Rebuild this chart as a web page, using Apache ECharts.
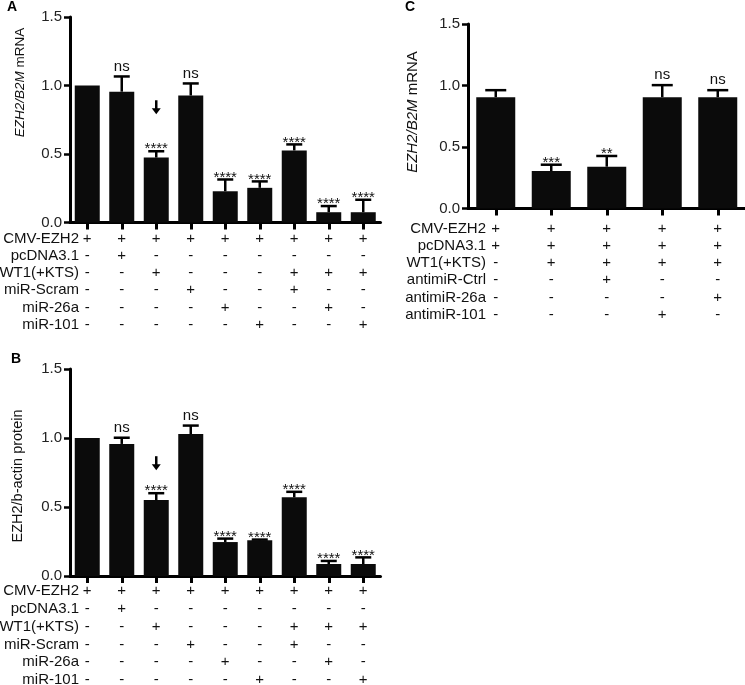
<!DOCTYPE html>
<html><head><meta charset="utf-8">
<script src="https://cdn.jsdelivr.net/npm/echarts@6/dist/echarts.min.js"></script>
<style>html,body{margin:0;padding:0;background:#fff}#c{width:745px;height:685px}</style>
</head><body><div id="c"></div>
<script>
const FONT = '"Liberation Sans", Arial, Helvetica, sans-serif';

// ---- data ----
const rowNamesAB = ['CMV-EZH2', 'pcDNA3.1', 'WT1(+KTS)', 'miR-Scram', 'miR-26a', 'miR-101'];
const signsAB = [
  ['+', '+', '+', '+', '+', '+', '+', '+', '+'],
  ['-', '+', '-', '-', '-', '-', '-', '-', '-'],
  ['-', '-', '+', '-', '-', '-', '+', '+', '+'],
  ['-', '-', '-', '+', '-', '-', '+', '-', '-'],
  ['-', '-', '-', '-', '+', '-', '-', '+', '-'],
  ['-', '-', '-', '-', '-', '+', '-', '-', '+']
];
const meanA = [1.00, 0.955, 0.474, 0.927, 0.228, 0.253, 0.526, 0.075, 0.075];
const errA  = [0.00, 0.111, 0.046, 0.088, 0.086, 0.047, 0.044, 0.045, 0.091];
const sigA  = ['', 'ns', '****', 'ns', '****', '****', '****', '****', '****'];
const arrowA = 2;

const meanB = [1.00, 0.957, 0.550, 1.029, 0.246, 0.259, 0.570, 0.087, 0.087];
const errB  = [0.00, 0.045, 0.050, 0.061, 0.025, 0.005, 0.040, 0.022, 0.048];
const sigB  = ['', 'ns', '****', 'ns', '****', '****', '****', '****', '****'];
const arrowB = 2;

const rowNamesC = ['CMV-EZH2', 'pcDNA3.1', 'WT1(+KTS)', 'antimiR-Ctrl', 'antimiR-26a', 'antimiR-101'];
const signsC = [
  ['+', '+', '+', '+', '+'],
  ['+', '+', '+', '+', '+'],
  ['-', '+', '+', '+', '+'],
  ['-', '-', '+', '-', '-'],
  ['-', '-', '-', '-', '+'],
  ['-', '-', '-', '+', '-']
];
const meanC = [0.905, 0.304, 0.340, 0.905, 0.905];
const errC  = [0.057, 0.052, 0.087, 0.098, 0.057];
const sigC  = ['', '***', '**', 'ns', 'ns'];

const yTicks = [0, 0.5, 1.0, 1.5];

// ---- layout ----
const FS = 15;
const panels = [
  { key: 'A', rows: rowNamesAB, signs: signsAB, mean: meanA, err: errA, sig: sigA, arrow: arrowA,
    left: 70, top: 17, width: 310.5, height: 205.5, barWidth: 25, cap: 16, lh: 17.3, margin: 7.3,
    nameRight: 79, arrowGap: 44,
    title: { text: '{i|EZH2/B2M} mRNA', x: 20, y: 82.5, size: 13.5 },
    letter: { x: 12, y: 7 } },
  { key: 'B', rows: rowNamesAB, signs: signsAB, mean: meanB, err: errB, sig: sigB, arrow: arrowB,
    left: 70, top: 369, width: 310.5, height: 207, barWidth: 25, cap: 16, lh: 17.9, margin: 5.8,
    nameRight: 79, arrowGap: 30,
    title: { text: 'EZH2/b-actin protein', x: 18, y: 476, size: 14.5 },
    letter: { x: 16, y: 359 } },
  { key: 'C', rows: rowNamesC, signs: signsC, mean: meanC, err: errC, sig: sigC, arrow: -1,
    left: 468, top: 24, width: 277.5, height: 184.5, barWidth: 39, cap: 21, lh: 17.3, margin: 11.3,
    nameRight: 486, arrowGap: 0,
    title: { text: '{i|EZH2/B2M} mRNA', x: 413, y: 112, size: 15 },
    letter: { x: 410, y: 7 } }
];

const grids = [], xAxes = [], yAxes = [], series = [], graphics = [];
panels.forEach((p, k) => {
  grids.push({ left: p.left, top: p.top, width: p.width, height: p.height,
    containLabel: false, outerBoundsMode: 'none' });
  xAxes.push({
    type: 'category', gridIndex: k,
    data: p.mean.map((_, i) => String(i)),
    axisLine: { show: true, lineStyle: { color: '#000', width: 3 } },
    axisTick: { show: true, alignWithLabel: true, interval: 0, length: 7, lineStyle: { color: '#000', width: 3 } },
    axisLabel: {
      interval: 0, hideOverlap: false, margin: p.margin,
      fontFamily: FONT, fontSize: FS, color: '#111', lineHeight: p.lh,
      formatter: (v, idx) => p.signs.map(r => r[idx]).join('\n')
    },
    splitLine: { show: false }
  });
  yAxes.push({
    type: 'value', gridIndex: k, min: yTicks[0], max: yTicks[yTicks.length - 1], interval: yTicks[1] - yTicks[0],
    axisLine: { show: true, lineStyle: { color: '#000', width: 3 } },
    axisTick: { show: true, length: 6, lineStyle: { color: '#000', width: 2.5 } },
    axisLabel: { fontFamily: FONT, fontSize: FS, color: '#222', margin: 8, formatter: v => v.toFixed(1) },
    splitLine: { show: false }
  });
  series.push({
    type: 'bar', xAxisIndex: k, yAxisIndex: k, barWidth: p.barWidth,
    itemStyle: { color: '#0b0b0b' }, data: p.mean, z: 2
  });
  series.push({
    type: 'custom', xAxisIndex: k, yAxisIndex: k, z: 5,
    data: p.mean.map((m, i) => [i, m, p.err[i]]),
    renderItem: (params, api) => {
      const i = api.value(0), m = api.value(1), e = api.value(2);
      const base = api.coord([i, m]);
      const top = api.coord([i, m + e]);
      const ch = [];
      if (e > 0) {
        ch.push({ type: 'line', shape: { x1: base[0], y1: base[1], x2: top[0], y2: top[1] },
          style: { stroke: '#000', lineWidth: 2.5 } });
        ch.push({ type: 'line', shape: { x1: top[0] - p.cap / 2, y1: top[1], x2: top[0] + p.cap / 2, y2: top[1] },
          style: { stroke: '#000', lineWidth: 2.5 } });
      }
      const s = p.sig[params.dataIndex];
      if (s) {
        const star = s.indexOf('*') >= 0;
        ch.push({ type: 'text', style: { text: s, x: top[0], y: top[1] - (star ? 2 : 10),
          align: 'center', verticalAlign: 'middle', fontFamily: FONT, fontSize: FS, fill: '#111' } });
      }
      if (params.dataIndex === p.arrow) {
        const cy = top[1] - p.arrowGap;
        ch.push({ type: 'line', shape: { x1: top[0], y1: cy - 7, x2: top[0], y2: cy + 2 },
          style: { stroke: '#000', lineWidth: 2.5 } });
        ch.push({ type: 'polygon', shape: { points: [[top[0] - 4.5, cy + 1], [top[0] + 4.5, cy + 1], [top[0], cy + 7]] },
          style: { fill: '#000' } });
      }
      return { type: 'group', children: ch };
    }
  });
  // row names
  const axisY = p.top + p.height;
  p.rows.forEach((r, j) => {
    graphics.push({ type: 'text', style: {
      text: r, x: p.nameRight, y: axisY + p.margin + p.lh / 2 + j * p.lh,
      align: 'right', verticalAlign: 'middle', fontFamily: FONT, fontSize: FS, fill: '#111' } });
  });
  // y-axis title
  graphics.push({ type: 'text', x: p.title.x, y: p.title.y, rotation: Math.PI / 2, style: {
    text: p.title.text, x: 0, y: 0, align: 'center', verticalAlign: 'middle',
    fontFamily: FONT, fontSize: p.title.size, fill: '#111',
    rich: { i: { fontStyle: 'italic', fontFamily: FONT, fontSize: p.title.size, fill: '#111' } } } });
  // panel letter
  graphics.push({ type: 'text', style: {
    text: p.key, x: p.letter.x, y: p.letter.y, align: 'center', verticalAlign: 'middle',
    fontFamily: FONT, fontSize: 14, fontWeight: 'bold', fill: '#000' } });
});

const chart = echarts.init(document.getElementById('c'), null, { renderer: 'canvas' });
chart.setOption({
  animation: false,
  backgroundColor: '#fff',
  grid: grids, xAxis: xAxes, yAxis: yAxes, series: series,
  graphic: graphics
});
</script>
</body></html>
